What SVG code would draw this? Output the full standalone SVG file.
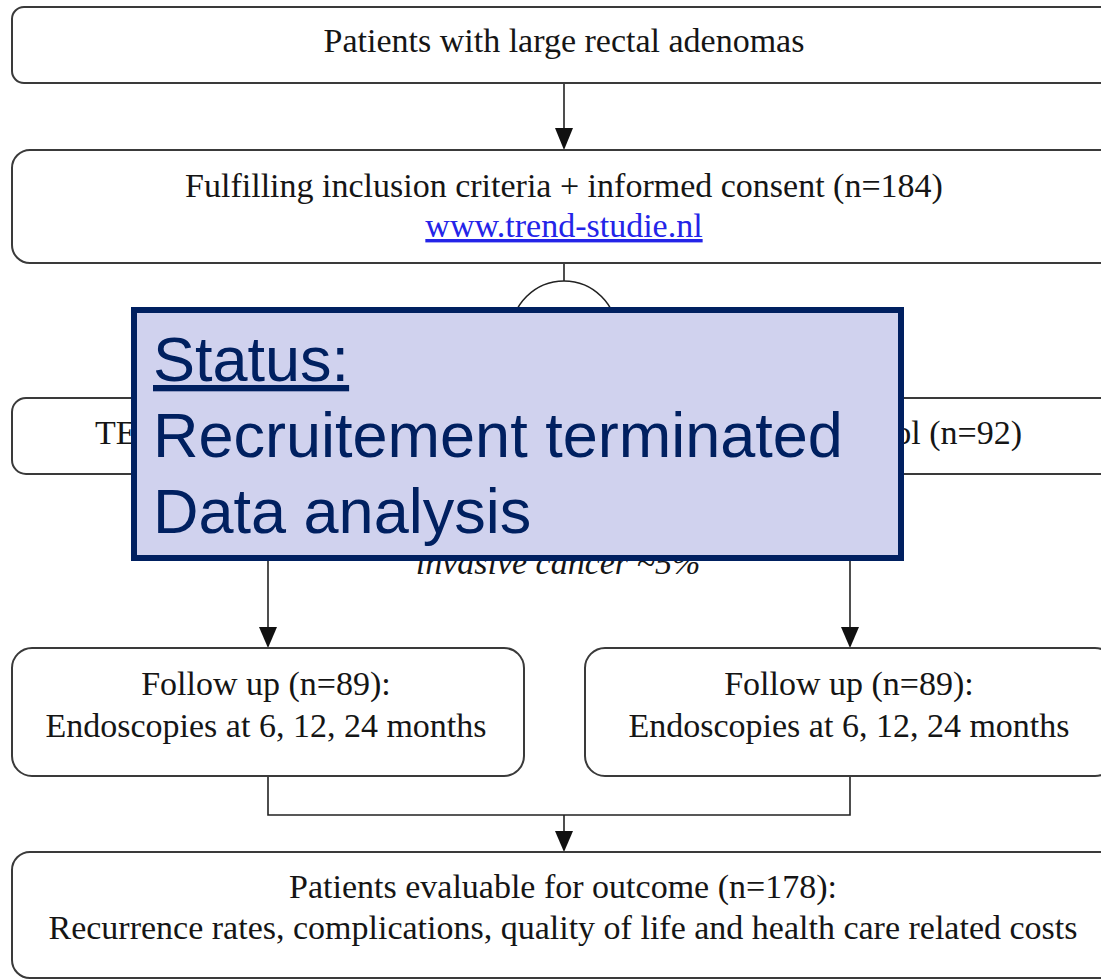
<svg xmlns="http://www.w3.org/2000/svg" width="1101" height="980" viewBox="0 0 1101 980">
<style>
.box{fill:#fff;stroke:#3a3a3a;stroke-width:2}
.t{font-family:"Liberation Serif","Times New Roman",serif;font-size:34px;fill:#151515;text-anchor:middle}
.ln{stroke:#222;stroke-width:1.6;fill:none}
.ah{fill:#111}
.st{font-family:"Liberation Sans",Arial,sans-serif;font-size:63px;fill:#002060}
</style>
<rect width="1101" height="980" fill="#fff"/>
<g id="connectors">
<line class="ln" x1="564" y1="83" x2="564" y2="128"/>
<path class="ah" d="M555,128 L573,128 L564,150 Z"/>
<line class="ln" x1="564" y1="263" x2="564" y2="281"/>
<path class="ln" d="M511,334 A53,53 0 0 1 617,334"/>
<line class="ln" x1="268" y1="561" x2="268" y2="627"/>
<path class="ah" d="M259,627 L277,627 L268,648 Z"/>
<line class="ln" x1="850" y1="561" x2="850" y2="627"/>
<path class="ah" d="M841,627 L859,627 L850,648 Z"/>
<polyline class="ln" points="268,776 268,815 850,815 850,776"/>
<line class="ln" x1="564" y1="815" x2="564" y2="831"/>
<path class="ah" d="M555,831 L573,831 L564,852 Z"/>
</g>
<g id="n1">
<rect class="box" x="12" y="7" width="1110" height="76" rx="12"/>
<text class="t" x="564" y="52">Patients with large rectal adenomas</text>
</g>
<g id="n2">
<rect class="box" x="12" y="150" width="1110" height="113" rx="18"/>
<text class="t" x="564" y="197">Fulfilling inclusion criteria + informed consent (n=184)</text>
<text class="t" x="564" y="237" style="fill:#2424E8" text-decoration="underline">www.trend-studie.nl</text>
</g>
<g id="n3">
<rect class="box" x="12" y="398" width="1110" height="76" rx="14"/>
<text class="t" x="95" y="444" style="text-anchor:start">TE</text>
<text class="t" x="1022" y="444" style="text-anchor:end">ol (n=92)</text>
</g>
<g id="n4">
<text class="t" x="558" y="574" font-style="italic">invasive cancer ~5%</text>
</g>
<g id="n5">
<rect class="box" x="12" y="648" width="512" height="128" rx="20"/>
<text class="t" x="266" y="695">Follow up (n=89):</text>
<text class="t" x="266" y="737">Endoscopies at 6, 12, 24 months</text>
</g>
<g id="n6">
<rect class="box" x="585" y="648" width="530" height="128" rx="20"/>
<text class="t" x="849" y="695">Follow up (n=89):</text>
<text class="t" x="849" y="737">Endoscopies at 6, 12, 24 months</text>
</g>
<g id="n7">
<rect class="box" x="12" y="852" width="1110" height="126" rx="18"/>
<text class="t" x="563" y="898">Patients evaluable for outcome (n=178):</text>
<text class="t" x="563" y="939">Recurrence rates, complications, quality of life and health care related costs</text>
</g>
<g id="status">
<rect x="134" y="310" width="767" height="248" fill="#D0D2EE" stroke="#002060" stroke-width="6"/>
<text class="st" x="153" y="381" text-decoration="underline">Status:</text>
<text class="st" x="153" y="457">Recruitement terminated</text>
<text class="st" x="153" y="533">Data analysis</text>
</g>
</svg>
